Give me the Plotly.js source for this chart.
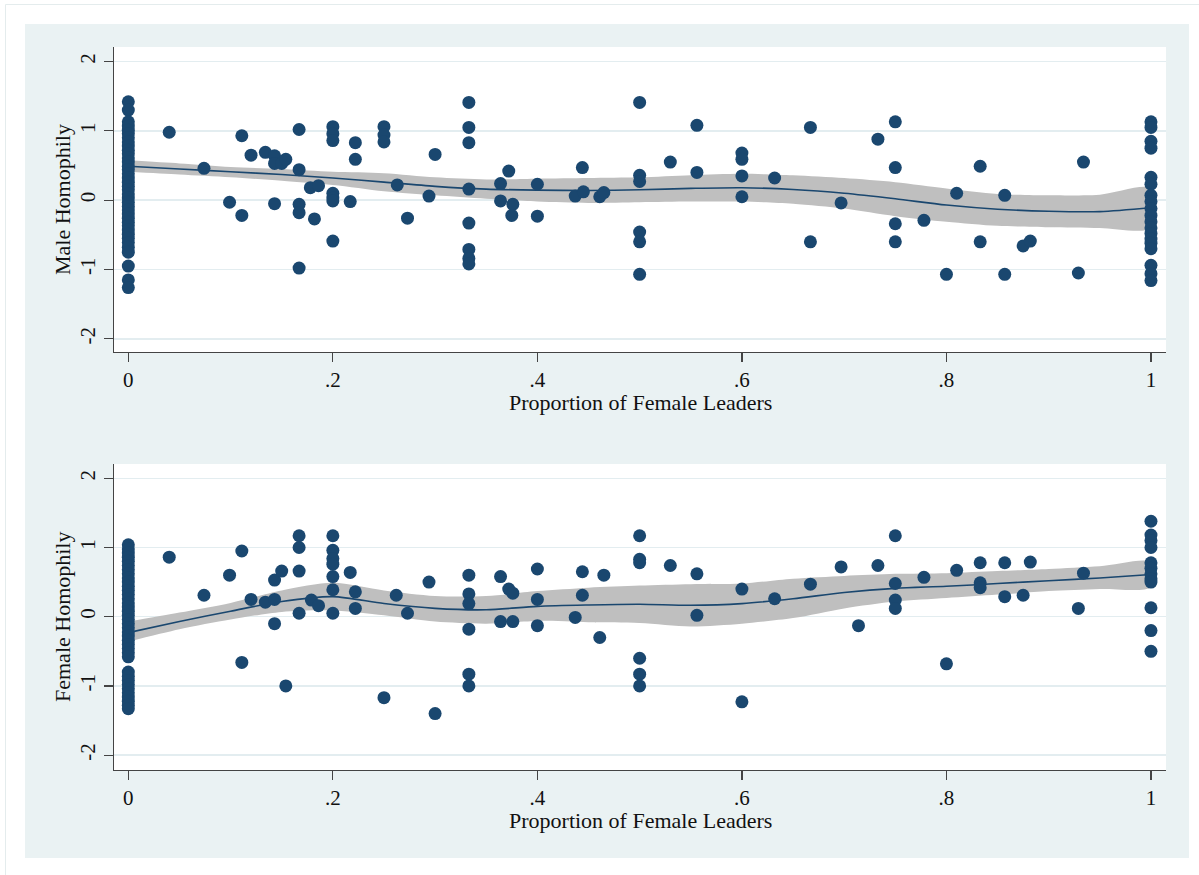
<!DOCTYPE html>
<html>
<head>
<meta charset="utf-8">
<script src="https://cdn.plot.ly/plotly-3.0.1.min.js"></script>
<style>html,body{margin:0;padding:0;background:#fff;}#chart{width:1199px;height:875px;}</style>
</head>
<body>
<div id="chart"></div>
<script>
// ---------- Data ----------
// Top panel: Male Homophily vs Proportion of Female Leaders
const maleX = [
  0,0,0,0,0,0,0,0,0,0,0,0,0,0,0,0,0,0,0,0,0,0,0,0,0,0,0,0,0,0,0,0,0,0,0,0,0,0,
  0.040,0.074,0.111,0.099,0.111,0.120,0.134,0.143,0.143,0.150,0.154,0.143,
  0.167,0.167,0.167,0.167,0.167,0.178,0.186,0.182,
  0.200,0.200,0.200,0.200,0.200,0.200,0.200,0.222,0.222,0.217,
  0.250,0.250,0.250,0.263,0.273,0.294,0.300,
  0.333,0.333,0.333,0.333,0.333,0.333,0.333,0.333,
  0.364,0.364,0.372,0.376,0.375,0.400,0.400,0.444,0.437,0.445,0.461,0.465,
  0.500,0.500,0.500,0.500,0.500,0.500,0.530,0.556,0.556,
  0.600,0.600,0.600,0.600,0.632,0.667,0.667,0.697,0.733,
  0.750,0.750,0.750,0.750,0.778,0.800,0.810,0.833,0.833,0.857,0.857,
  0.875,0.882,0.929,0.934,
  1,1,1,1,1,1,1,1,1,1,1,1,1,1,1,1,1,1,1
];
const maleY = [
  1.42,1.30,1.13,1.07,1.01,0.96,0.90,0.84,0.78,0.72,0.67,0.61,0.55,0.49,0.44,0.38,0.32,0.26,0.20,0.15,0.09,0.03,
  -0.03,-0.09,-0.14,-0.20,-0.26,-0.32,-0.37,-0.43,-0.49,-0.55,-0.61,-0.68,-0.75,-0.95,-1.15,-1.26,
  0.98,0.46,0.93,-0.03,-0.22,0.65,0.69,0.64,0.53,0.53,0.59,-0.05,
  1.02,0.44,-0.06,-0.18,-0.98,0.18,0.21,-0.27,
  1.06,0.96,0.86,0.10,0.03,-0.01,-0.59,0.83,0.59,-0.02,
  1.06,0.94,0.84,0.22,-0.26,0.06,0.66,
  1.41,1.05,0.83,0.16,-0.33,-0.71,-0.84,-0.92,
  0.24,-0.01,0.42,-0.06,-0.22,0.23,-0.23,0.47,0.06,0.12,0.05,0.11,
  1.41,0.36,0.27,-0.46,-0.60,-1.07,0.55,1.08,0.40,
  0.68,0.59,0.35,0.05,0.32,1.05,-0.60,-0.04,0.88,
  1.13,0.47,-0.34,-0.60,-0.29,-1.07,0.10,0.49,-0.60,0.07,-1.07,
  -0.66,-0.59,-1.05,0.55,
  1.13,1.05,0.85,0.75,0.33,0.23,0.07,-0.02,-0.12,-0.22,-0.31,-0.40,-0.48,-0.56,-0.62,-0.70,-0.94,-1.06,-1.16
];
// Bottom panel: Female Homophily vs Proportion of Female Leaders
const femaleX = [
  0,0,0,0,0,0,0,0,0,0,0,0,0,0,0,0,0,0,0,0,0,0,0,0,0,0,0,0,0,0,0,0,0,0,0,0,0,0,
  0.040,0.074,0.111,0.099,0.111,0.120,0.134,0.143,0.150,0.143,0.143,0.154,
  0.167,0.167,0.167,0.167,0.179,0.186,
  0.200,0.200,0.200,0.200,0.200,0.200,0.200,0.217,0.222,0.222,
  0.250,0.262,0.273,0.294,0.300,
  0.333,0.333,0.333,0.333,0.333,0.333,
  0.364,0.364,0.372,0.376,0.376,0.400,0.400,0.400,0.444,0.444,0.437,0.465,0.461,
  0.500,0.500,0.500,0.500,0.500,0.500,0.530,0.556,0.556,0.600,0.600,0.632,
  0.667,0.697,0.714,0.733,0.750,0.750,0.750,0.750,0.778,0.800,0.810,
  0.833,0.833,0.833,0.857,0.857,0.875,0.882,0.929,0.934,
  1,1,1,1,1,1,1,1,1,1,1,1
];
const femaleY = [
  1.04,0.98,0.92,0.86,0.80,0.74,0.68,0.62,0.56,0.50,0.44,0.38,0.32,0.26,0.20,0.14,0.08,0.02,
  -0.04,-0.10,-0.16,-0.22,-0.28,-0.34,-0.40,-0.46,-0.52,-0.58,
  -0.80,-0.86,-0.92,-0.98,-1.04,-1.10,-1.16,-1.22,-1.28,-1.33,
  0.86,0.31,0.95,0.60,-0.66,0.25,0.21,0.53,0.66,0.25,-0.10,-1.00,
  1.17,1.00,0.66,0.05,0.24,0.16,
  1.17,0.96,0.84,0.76,0.58,0.39,0.05,0.64,0.36,0.12,
  -1.17,0.31,0.05,0.50,-1.40,
  0.60,0.33,0.19,-0.18,-0.83,-1.00,
  0.58,-0.07,0.40,0.34,-0.07,0.69,0.25,-0.13,0.65,0.31,-0.01,0.60,-0.30,
  1.17,0.83,0.78,-0.60,-0.83,-1.00,0.74,0.62,0.02,0.40,-1.23,0.26,
  0.47,0.72,-0.13,0.74,1.17,0.48,0.24,0.12,0.57,-0.68,0.67,
  0.78,0.49,0.42,0.78,0.29,0.31,0.79,0.12,0.63,
  1.38,1.18,1.10,1.00,0.78,0.70,0.62,0.55,0.50,0.13,-0.20,-0.50
];
// Local polynomial fit and 95% CI
const fitX = [0,0.05,0.1,0.15,0.2,0.25,0.3,0.35,0.4,0.45,0.5,0.55,0.6,0.65,0.7,0.75,0.8,0.85,0.9,0.95,1.0];
const maleFit = [0.49,0.45,0.41,0.37,0.32,0.26,0.20,0.16,0.145,0.14,0.15,0.17,0.18,0.155,0.10,0.02,-0.07,-0.13,-0.16,-0.165,-0.11];
const maleHi  = [0.575,0.53,0.48,0.45,0.41,0.39,0.33,0.30,0.31,0.32,0.33,0.36,0.38,0.36,0.32,0.26,0.17,0.09,0.07,0.08,0.17];
const maleLo  = [0.41,0.37,0.33,0.28,0.22,0.13,0.07,0.02,-0.02,-0.04,-0.03,-0.02,-0.02,-0.05,-0.12,-0.23,-0.31,-0.37,-0.39,-0.40,-0.40];
const femaleFit = [-0.23,-0.07,0.08,0.22,0.29,0.19,0.12,0.10,0.15,0.17,0.18,0.165,0.19,0.26,0.35,0.41,0.44,0.48,0.52,0.56,0.61];
const femaleHi  = [-0.07,0.06,0.20,0.38,0.49,0.38,0.30,0.30,0.37,0.42,0.45,0.47,0.48,0.55,0.59,0.62,0.63,0.66,0.69,0.73,0.79];
const femaleLo  = [-0.36,-0.18,-0.04,0.07,0.09,0.02,-0.07,-0.10,-0.06,-0.08,-0.09,-0.14,-0.10,-0.02,0.12,0.22,0.27,0.32,0.37,0.40,0.43];

const xTickVals = [0,0.2,0.4,0.6,0.8,1];
const xTickText = ['0','.2','.4','.6','.8','1'];
const yTickVals = [-2,-1,0,1,2];
const yTickText = ['-2','-1','0','1','2'];
const xTitle = 'Proportion of Female Leaders';
const yTitleTop = 'Male Homophily';
const yTitleBottom = 'Female Homophily';

// ---------- Styling ----------
const W = 1199, H = 875;
const NAVY = '#1a476f';
const BAND = '#bfbfbf';
const BG = '#eaf2f3';
const FONT = 'Liberation Serif';
const px = v => v / W;
const py = v => (H - v) / H;

function band(xs, lo, hi, xa, ya) {
  return {
    x: xs.concat(xs.slice().reverse()),
    y: hi.concat(lo.slice().reverse()),
    xaxis: xa, yaxis: ya, type: 'scatter', mode: 'lines',
    fill: 'toself', fillcolor: BAND,
    line: {width: 0, shape: 'spline', smoothing: 0.8}, hoverinfo: 'skip', showlegend: false
  };
}
function fitLine(xs, ys, xa, ya) {
  return {x: xs, y: ys, xaxis: xa, yaxis: ya, type: 'scatter', mode: 'lines',
    line: {color: NAVY, width: 1.6, shape: 'spline', smoothing: 0.8}, showlegend: false};
}
function pts(xs, ys, xa, ya) {
  return {x: xs, y: ys, xaxis: xa, yaxis: ya, type: 'scatter', mode: 'markers',
    marker: {color: NAVY, size: 13, line: {width: 0}}, showlegend: false};
}

const data = [
  band(fitX, maleLo, maleHi, 'x', 'y'),
  fitLine(fitX, maleFit, 'x', 'y'),
  pts(maleX, maleY, 'x', 'y'),
  band(fitX, femaleLo, femaleHi, 'x2', 'y2'),
  fitLine(fitX, femaleFit, 'x2', 'y2'),
  pts(femaleX, femaleY, 'x2', 'y2')
];

const xDomain = [px(114), px(1166)];
const commonX = {
  range: [-0.014, 1.0147], domain: xDomain, tickvals: xTickVals, ticktext: xTickText,
  showgrid: false, zeroline: false, showline: true, linecolor: '#444', linewidth: 1.2,
  ticks: 'outside', ticklen: 9, tickcolor: '#444', tickwidth: 1.2,
  tickfont: {family: FONT, size: 21, color: '#111'}, automargin: false, fixedrange: true
};
const commonY = {
  tickvals: yTickVals, ticktext: yTickText, tickangle: -90,
  showgrid: true, gridcolor: '#e3edf0', gridwidth: 1.5, zeroline: false,
  showline: true, linecolor: '#444', linewidth: 1.2,
  ticks: 'outside', ticklen: 9, tickcolor: '#444', tickwidth: 1.2,
  tickfont: {family: FONT, size: 21, color: '#111'}, automargin: false, fixedrange: true
};

const layout = {
  width: W, height: H,
  margin: {l: 0, r: 0, t: 0, b: 0},
  font: {family: FONT, color: '#111'},
  paper_bgcolor: '#ffffff', plot_bgcolor: 'rgba(0,0,0,0)',
  showlegend: false,
  xaxis: Object.assign({}, commonX, {anchor: 'y'}),
  yaxis: Object.assign({}, commonY, {anchor: 'x', domain: [py(352), py(47)], range: [-2.19, 2.21]}),
  xaxis2: Object.assign({}, commonX, {anchor: 'y2'}),
  yaxis2: Object.assign({}, commonY, {anchor: 'x2', domain: [py(770), py(464)], range: [-2.215, 2.207]}),
  shapes: [
    {type: 'line', xref: 'paper', yref: 'paper', x0: px(5.5), x1: 1.01, y0: py(4.5), y1: py(4.5), line: {color: '#e4eced', width: 1}, layer: 'below'},
    {type: 'line', xref: 'paper', yref: 'paper', x0: px(5.5), x1: px(5.5), y0: -0.01, y1: py(4.5), line: {color: '#e4eced', width: 1}, layer: 'below'},
    {type: 'rect', xref: 'paper', yref: 'paper', x0: px(25), x1: px(1189), y0: py(858), y1: py(24), fillcolor: BG, line: {width: 0}, layer: 'below'},
    {type: 'rect', xref: 'paper', yref: 'paper', x0: px(114), x1: px(1166), y0: py(352), y1: py(47), fillcolor: '#ffffff', line: {width: 0}, layer: 'below'},
    {type: 'rect', xref: 'paper', yref: 'paper', x0: px(114), x1: px(1166), y0: py(770), y1: py(464), fillcolor: '#ffffff', line: {width: 0}, layer: 'below'}
  ],
  annotations: [
    {text: xTitle, xref: 'paper', yref: 'paper', x: px(640), y: py(402), xanchor: 'center', yanchor: 'middle', showarrow: false, font: {family: FONT, size: 22, color: '#111'}},
    {text: xTitle, xref: 'paper', yref: 'paper', x: px(640), y: py(820), xanchor: 'center', yanchor: 'middle', showarrow: false, font: {family: FONT, size: 22, color: '#111'}},
    {text: yTitleTop, xref: 'paper', yref: 'paper', x: px(63), y: py(200), xanchor: 'center', yanchor: 'middle', textangle: -90, showarrow: false, font: {family: FONT, size: 22, color: '#111'}},
    {text: yTitleBottom, xref: 'paper', yref: 'paper', x: px(63), y: py(617), xanchor: 'center', yanchor: 'middle', textangle: -90, showarrow: false, font: {family: FONT, size: 22, color: '#111'}}
  ]
};

Plotly.newPlot('chart', data, layout, {displayModeBar: false, staticPlot: true});
</script>
</body>
</html>
